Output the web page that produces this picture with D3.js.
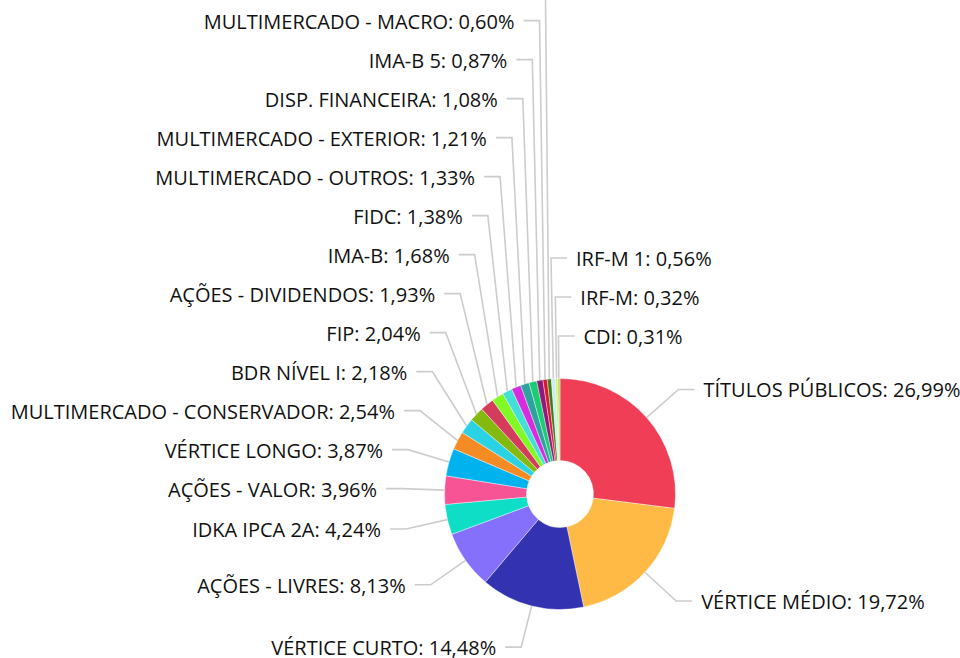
<!DOCTYPE html>
<html>
<head>
<meta charset="utf-8">
<script src="https://cdn.jsdelivr.net/npm/d3@7"></script>
<style>
  body { margin: 0; background: #fff; }
  text { font-family: "Open Sans", sans-serif; font-size: 20px; fill: #111; }
</style>
</head>
<body>
<script>
// slice data, in drawing order (clockwise from 12 o'clock)
const categories = [
  "TÍTULOS PÚBLICOS", "VÉRTICE MÉDIO", "VÉRTICE CURTO", "AÇÕES - LIVRES",
  "IDKA IPCA 2A", "AÇÕES - VALOR", "VÉRTICE LONGO", "MULTIMERCADO - CONSERVADOR",
  "BDR NÍVEL I", "FIP", "AÇÕES - DIVIDENDOS", "IMA-B", "FIDC",
  "MULTIMERCADO - OUTROS", "MULTIMERCADO - EXTERIOR", "DISP. FINANCEIRA",
  "IMA-B 5", "MULTIMERCADO - MACRO", "OUTROS", "IRF-M 1", "IRF-M", "CDI"
];
const values = [
  26.99, 19.72, 14.48, 8.13,
  4.24, 3.96, 3.87, 2.54,
  2.18, 2.04, 1.93, 1.68, 1.38,
  1.33, 1.21, 1.08,
  0.87, 0.60, 0.58, 0.56, 0.32, 0.31
];
const colors = [
  "#ef3e55", "#ffba45", "#3333b2", "#8470fa",
  "#0fdec6", "#f75495", "#00b2ee", "#f58b24",
  "#29d3e3", "#84b90f", "#d53c5c", "#80f924", "#44e0d8",
  "#d82be0", "#2ca39c", "#1bcc72",
  "#8e1b7c", "#da1530", "#3d7e1b", "#c5eef8", "#d8ec6a", "#a8e060"
];

const width = 960, height = 658;
const cx = 560, cy = 494;
const outerR = 115.5, innerR = 33.5;
const elbowR = 158;   // end of first connector segment
const len2 = 16;      // horizontal connector segment
const gap = 9;        // connector to text
const spacing = 39;   // min vertical distance between labels
const labelTop = 13;  // labels are clipped above this line

const svg = d3.select("body")
  .append("svg")
  .attr("width", width)
  .attr("height", height);

svg.append("defs").append("clipPath")
  .attr("id", "label-clip")
  .append("rect")
  .attr("x", -cx).attr("y", labelTop - cy)
  .attr("width", width).attr("height", height);

const data = categories.map(function(c, i) {
  return { name: c, value: values[i], color: colors[i] };
});

const pie = d3.pie().sort(null).value(function(d) { return d.value; });
const arcs = pie(data);

const arc = d3.arc().innerRadius(innerR).outerRadius(outerR);

const g = svg.append("g").attr("transform", `translate(${cx},${cy})`);

// label layout
arcs.forEach(function(a) {
  const mid = (a.startAngle + a.endAngle) / 2;
  a.ax = Math.sin(mid) * outerR;
  a.ay = -Math.cos(mid) * outerR;
  a.ex = Math.sin(mid) * elbowR;
  a.ey = -Math.cos(mid) * elbowR;
  // the last few slices right before 12 o'clock get their labels on the right
  let deg = mid * 180 / Math.PI;
  a.right = deg < 180 || deg > 355.5;
  if (deg > 355.5) deg -= 360;
  a.deg = deg;
  a.ly = a.ey;
});

// push overlapping labels upward, starting from the bottom of each side
[true, false].forEach(function(side) {
  const list = arcs.filter(function(a) { return a.right === side; })
    .sort(function(a, b) { return side ? b.deg - a.deg : a.deg - b.deg; });
  for (let i = 1; i < list.length; i++) {
    list[i].ly = Math.min(list[i].ly, list[i - 1].ly - spacing);
  }
});

// connectors
g.append("g")
  .selectAll("polyline")
  .data(arcs)
  .enter()
  .append("polyline")
  .attr("points", function(d) {
    const hx = d.ex + (d.right ? len2 : -len2);
    return [[d.ax, d.ay], [d.ex, d.ly], [hx, d.ly]].map(function(p) { return p.join(","); }).join(" ");
  })
  .attr("fill", "none")
  .attr("stroke", "#cccccc")
  .attr("stroke-width", 1.6);

// slices
g.append("g")
  .selectAll("path")
  .data(arcs)
  .enter()
  .append("path")
  .attr("d", arc)
  .attr("fill", function(d) { return d.data.color; })
  .attr("stroke", "#ffffff")
  .attr("stroke-width", 0.4);

// labels
g.append("g")
  .attr("clip-path", "url(#label-clip)")
  .selectAll("text")
  .data(arcs)
  .enter()
  .append("text")
  .attr("x", function(d) { return d.ex + (d.right ? len2 + gap : -len2 - gap); })
  .attr("y", function(d) { return d.ly; })
  .attr("dy", "0.4em")
  .attr("text-anchor", function(d) { return d.right ? "start" : "end"; })
  .text(function(d) { return d.data.name + ": " + d.data.value.toFixed(2).replace(".", ",") + "%"; });
</script>
</body>
</html>
